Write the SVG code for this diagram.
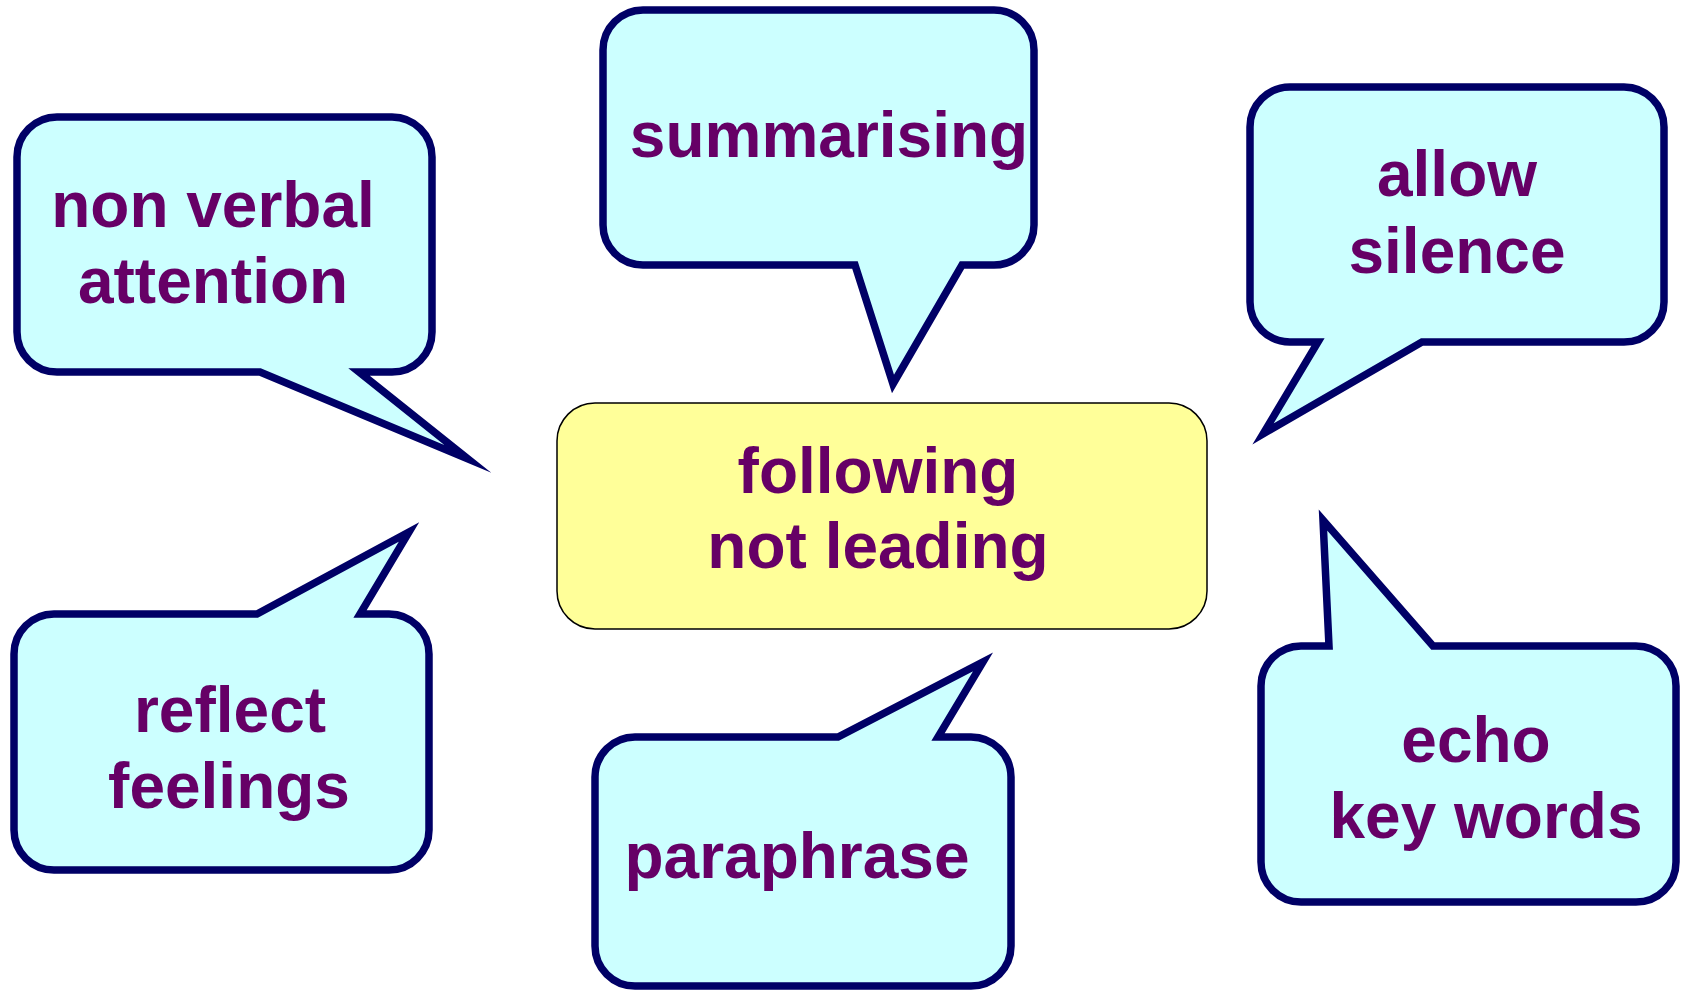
<svg xmlns="http://www.w3.org/2000/svg" width="1687" height="993" viewBox="0 0 1687 993">
<style>
.bub{fill:#CCFFFF;stroke:#000066;stroke-width:7.5;stroke-linejoin:miter;stroke-miterlimit:20}
.ctr{fill:#FFFF99;stroke:#000000;stroke-width:1.5}
.t{font-family:"Liberation Sans",Arial,sans-serif;font-weight:bold;font-size:64px;fill:#660066;text-anchor:middle}
</style>
<rect width="1687" height="993" fill="#FFFFFF"/>
<g id="connectors"></g>
<g id="center">
<rect class="ctr" x="557" y="403" width="650" height="226" rx="38" ry="38"/>
<text class="t" x="878" y="493">following</text>
<text class="t" x="878" y="568">not leading</text>
</g>
<g id="nonverbal">
<path class="bub" d="M57,117 H392 A40,40 0 0 1 432,157 V332 A40,40 0 0 1 392,372 H359 L468,459 L260,372 H57 A40,40 0 0 1 17,332 V157 A40,40 0 0 1 57,117 Z"/>
<text class="t" x="213" y="227">non verbal</text>
<text class="t" x="213" y="303">attention</text>
</g>
<g id="summarising">
<path class="bub" d="M643,10 H994 A40,40 0 0 1 1034,50 V225 A40,40 0 0 1 994,265 H962 L893,384 L855,265 H643 A40,40 0 0 1 603,225 V50 A40,40 0 0 1 643,10 Z"/>
<text class="t" x="829" y="157">summarising</text>
</g>
<g id="allowsilence">
<path class="bub" d="M1290,87 H1624 A40,40 0 0 1 1664,127 V302 A40,40 0 0 1 1624,342 H1422 L1263,434 L1318,342 H1290 A40,40 0 0 1 1250,302 V127 A40,40 0 0 1 1290,87 Z"/>
<text class="t" x="1457" y="196">allow</text>
<text class="t" x="1457" y="273">silence</text>
</g>
<g id="reflect">
<path class="bub" d="M54,614 H257 L409,532 L360,614 H389 A40,40 0 0 1 429,654 V830 A40,40 0 0 1 389,870 H54 A40,40 0 0 1 14,830 V654 A40,40 0 0 1 54,614 Z"/>
<text class="t" x="230" y="732">reflect</text>
<text class="t" x="229" y="808">feelings</text>
</g>
<g id="paraphrase">
<path class="bub" d="M635,737 H838 L983,662 L938,737 H971 A40,40 0 0 1 1011,777 V946 A40,40 0 0 1 971,986 H635 A40,40 0 0 1 595,946 V777 A40,40 0 0 1 635,737 Z"/>
<text class="t" x="797" y="878">paraphrase</text>
</g>
<g id="echo">
<path class="bub" d="M1301,646 H1329 L1323,520 L1433,646 H1636 A40,40 0 0 1 1676,686 V862 A40,40 0 0 1 1636,902 H1301 A40,40 0 0 1 1261,862 V686 A40,40 0 0 1 1301,646 Z"/>
<text class="t" x="1476" y="762">echo</text>
<text class="t" x="1486" y="838">key words</text>
</g>
</svg>
